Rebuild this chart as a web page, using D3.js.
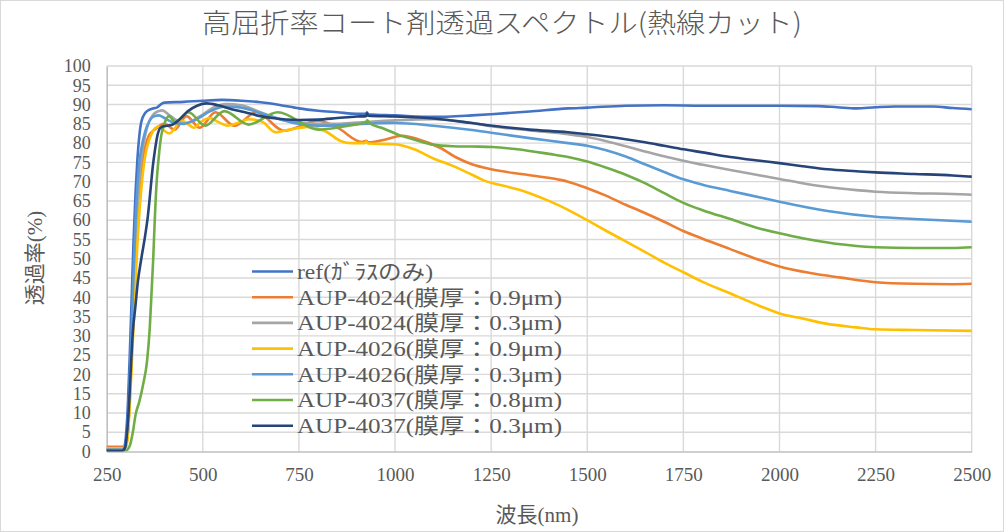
<!DOCTYPE html>
<html><head><meta charset="utf-8">
<script src="https://cdn.jsdelivr.net/npm/d3@7"></script>
<style>body{margin:0;background:#fff;}svg{display:block;}</style>
</head><body>
<svg id="c" width="1006" height="532"></svg>
<script>
const title = "高屈折率コート剤透過スペクトル(熱線カット)";
const xTitle = "波長(nm)";
const yTitle = "透過率(%)";
const xTicks = [250,500,750,1000,1250,1500,1750,2000,2250,2500];
const yTicks = [0,5,10,15,20,25,30,35,40,45,50,55,60,65,70,75,80,85,90,95,100];
const seriesNames = ["ref(ｶﾞﾗｽのみ)","AUP-4024(膜厚：0.9μm)","AUP-4024(膜厚：0.3μm)","AUP-4026(膜厚：0.9μm)","AUP-4026(膜厚：0.3μm)","AUP-4037(膜厚：0.8μm)","AUP-4037(膜厚：0.3μm)"];
const seriesColors = ["#4472C4","#ED7D31","#A5A5A5","#FFC000","#5B9BD5","#70AD47","#264478"];

// [wavelength nm, transmittance %]
const refGlass = [[250,0.6],[290,0.6],[295,1],[300,4],[305,12],[310,25],[315,40],[320,55],[325,67],[330,76],[335,82],[340,85.5],[350,87.8],[360,88.6],[370,89],[380,89.2],[390,90],[400,90.5],[450,90.7],[500,91],[550,91.2],[600,91],[650,90.6],[700,89.9],[750,89.0],[800,88.4],[850,88],[900,87.6],[925,87.6],[927,88.0],[930,87.5],[1000,87.2],[1100,86.8],[1200,87.2],[1250,87.5],[1350,88.2],[1450,89],[1500,89.2],[1600,89.7],[1700,89.8],[1800,89.7],[1900,89.7],[2000,89.7],[2100,89.6],[2150,89.3],[2200,89.0],[2250,89.3],[2300,89.5],[2400,89.5],[2450,89.1],[2500,88.8]];
const aup4024t09 = [[250,1.2],[290,1.2],[300,1.5],[305,5],[310,14],[315,25],[320,37],[325,48],[330,58],[335,66],[340,72],[345,76.5],[350,79],[360,82],[375,83.5],[400,85],[427,83.5],[457,87],[492,84],[533,88],[582,84.5],[640,88],[711,83.2],[800,85.8],[850,84],[914,80.3],[925,80.6],[930,80.2],[970,80.8],[1020,81.9],[1060,81],[1117,78.8],[1161,76.2],[1200,74.5],[1250,73.2],[1333,71.9],[1422,70.6],[1450,70],[1500,68.3],[1550,66.3],[1600,64],[1638,62.4],[1700,59.6],[1750,57.2],[1800,55.2],[1872,52.5],[1950,49.6],[2000,48],[2080,46.3],[2160,45.1],[2250,43.9],[2350,43.5],[2450,43.4],[2500,43.5]];
const aup4024t03 = [[250,0.5],[290,0.5],[300,1.5],[307,8],[312,18],[317,32],[322,45],[327,57],[332,66],[337,73],[342,77.5],[350,82],[360,85.5],[370,87.3],[385,88.3],[395,88.5],[410,87.5],[430,86],[455,85.2],[490,86.8],[530,89.3],[560,90.1],[600,89.8],[650,88],[700,86.2],[750,85.3],[800,85],[850,85],[900,85.3],[1000,85.9],[1100,86.2],[1200,85.2],[1250,84.4],[1350,83.3],[1450,82.3],[1500,81.6],[1550,80.5],[1600,79.2],[1650,77.8],[1700,76.6],[1750,75.4],[1800,74.4],[1872,73],[1950,71.6],[2000,70.7],[2060,69.6],[2125,68.6],[2200,67.8],[2250,67.4],[2350,67],[2450,66.8],[2500,66.6]];
const aup4026t09 = [[250,0.8],[290,0.8],[300,1.2],[305,4],[310,12],[315,22],[320,33],[325,44],[330,54],[335,62],[340,68],[345,73],[350,76.5],[355,79],[365,82],[375,83.8],[387,84.3],[400,83.2],[413,82.5],[425,83.5],[443,86],[460,85],[477,84],[495,85.5],[517,86.5],[540,85.5],[564,84.5],[590,85.2],[620,86.2],[655,85.5],[689,82.8],[730,83.6],[775,84.2],[820,83],[860,80.5],[886,80],[920,80],[925,80.4],[930,79.9],[1000,79.7],[1050,78.4],[1100,76],[1150,74.1],[1200,71.8],[1229,70.4],[1300,68.5],[1350,67],[1400,65],[1450,62.7],[1500,60],[1550,57.2],[1600,54.5],[1650,51.8],[1700,49],[1750,46.5],[1800,44],[1865,41.3],[1950,37.7],[2000,35.8],[2060,34.5],[2125,33.1],[2200,32.2],[2250,31.7],[2350,31.5],[2500,31.3]];
const aup4026t03 = [[250,0.5],[290,0.5],[298,1.5],[305,8],[310,18],[315,32],[320,47],[325,60],[330,69],[335,75],[340,78.5],[350,83],[360,85.5],[370,86.8],[385,87.2],[400,86.5],[420,85.5],[450,85],[480,86],[520,88.3],[560,89.5],[600,89.2],[650,87.8],[700,86.2],[750,85],[800,84.5],[850,84.6],[900,84.9],[1000,85.2],[1100,84.5],[1200,83.4],[1250,82.7],[1350,81.3],[1450,80],[1500,79.3],[1600,76.5],[1650,74.5],[1700,72.5],[1750,70.6],[1800,69.2],[1872,67.6],[1950,65.9],[2000,64.8],[2125,62.4],[2250,60.9],[2350,60.3],[2500,59.6]];
const aup4037t08 = [[250,0.3],[300,0.3],[310,1.5],[318,5],[325,9.5],[335,13],[345,17.5],[355,23.5],[362,32],[367,42],[371,50],[375,60],[380,70],[385,76],[392,82],[400,85],[412,87],[428,85.5],[463,88],[506,84.5],[556,88.3],[619,84.8],[695,88],[800,83.5],[860,84.2],[925,85.5],[928,85.9],[932,85.3],[970,83.8],[1013,82],[1060,80.6],[1099,79.6],[1150,79.2],[1200,79.1],[1253,79],[1318,78.4],[1400,77.2],[1450,76.4],[1500,75.2],[1550,73.6],[1600,71.8],[1650,69.6],[1700,67],[1750,64.5],[1800,62.6],[1872,60.3],[1950,57.8],[2000,56.6],[2060,55.3],[2125,54.2],[2200,53.3],[2250,53],[2350,52.8],[2450,52.8],[2500,53]];
const aup4037t03 = [[250,0.2],[290,0.2],[298,1],[303,5],[308,12],[313,22],[318,31],[325,38],[331,44],[340,50],[350,56],[357,61],[365,69],[370,74],[376,78.5],[382,82],[390,84],[400,84.4],[415,84.6],[425,85],[440,86.2],[460,88.2],[485,89.7],[510,90.3],[540,89.8],[575,88.8],[610,88],[650,87],[680,86.5],[750,86],[800,86.1],[850,86.5],[900,86.9],[925,87],[927,87.7],[930,87.1],[1000,86.9],[1100,86.4],[1200,85.2],[1253,84.5],[1350,83.5],[1450,82.8],[1500,82.3],[1550,81.7],[1600,81],[1650,80.2],[1700,79.3],[1750,78.4],[1800,77.6],[1872,76.4],[1950,75.4],[2000,74.8],[2060,74],[2125,73.2],[2200,72.7],[2250,72.4],[2350,72],[2450,71.6],[2500,71.3]];

const seriesData = [refGlass,aup4024t09,aup4024t03,aup4026t09,aup4026t03,aup4037t08,aup4037t03];

const svg = d3.select("#c");
const L = 106.7, R = 971.7, T = 66, B = 451.5;
const x = d3.scaleLinear().domain([250,2500]).range([L,R]);
const y = d3.scaleLinear().domain([0,100]).range([B,T]);
const txt = "#595959";
const serif = "'Liberation Serif','Noto Sans CJK JP',serif";

svg.append("rect").attr("x",0.5).attr("y",0.5).attr("width",1003).attr("height",531)
  .attr("fill","#fff").attr("stroke","#d9d9d9").attr("stroke-width",1);

// grid
const grid = svg.append("g");
grid.selectAll("line.h").data(yTicks.filter(d=>d>0)).join("line")
  .attr("x1",L).attr("x2",R).attr("y1",d=>y(d)).attr("y2",d=>y(d))
  .attr("stroke","#d9d9d9").attr("stroke-width",1.4);
grid.selectAll("line.v").data(xTicks.filter(d=>d>250)).join("line")
  .attr("x1",d=>x(d)).attr("x2",d=>x(d)).attr("y1",T).attr("y2",B)
  .attr("stroke","#d9d9d9").attr("stroke-width",1.4);

// axes
const xAxis = d3.axisBottom(x).tickValues(xTicks).tickFormat(d3.format("d")).tickSize(0).tickPadding(16);
const gx = svg.append("g").attr("transform",`translate(0,${B})`).call(xAxis);
gx.select(".domain").attr("stroke","#bfbfbf").attr("stroke-width",1.6);
gx.selectAll("text").attr("fill",txt).style("font-family",serif).style("font-size","19px");
const yAxis = d3.axisLeft(y).tickValues(yTicks).tickFormat(d3.format("d")).tickSize(0).tickPadding(16);
const gy = svg.append("g").attr("transform",`translate(${L},0)`).call(yAxis);
gy.select(".domain").attr("stroke","#bfbfbf").attr("stroke-width",1.6);
gy.selectAll("text").attr("fill",txt).style("font-family",serif).style("font-size","18px");

// lines
svg.append("clipPath").attr("id","pc").append("rect")
  .attr("x",L).attr("y",T-5).attr("width",R-L).attr("height",B-T+5);
const line = d3.line().x(d=>x(d[0])).y(d=>y(d[1])).curve(d3.curveMonotoneX);
svg.append("g").attr("clip-path","url(#pc)").selectAll("path").data(seriesData).join("path")
  .attr("d",line).attr("fill","none").attr("stroke",(d,i)=>seriesColors[i])
  .attr("stroke-width",2.6).attr("stroke-linejoin","round").attr("stroke-linecap","round");

// legend
const lg = svg.append("g");
const lx0 = 252, lx1 = 293, ly0 = 271.5, ldy = 25.7;
seriesNames.forEach((n,i)=>{
  const yy = ly0 + i*ldy;
  lg.append("line").attr("x1",lx0).attr("x2",lx1).attr("y1",yy).attr("y2",yy)
    .attr("stroke",seriesColors[i]).attr("stroke-width",2.6);
  lg.append("text").attr("x",297).attr("y",yy).attr("dy","0.35em")
    .attr("fill",txt).style("font-family",serif).style("font-size","21px")
    .attr("textLength", i===0?136:265).attr("lengthAdjust","spacingAndGlyphs")
    .text(n);
});

// titles
svg.append("text").attr("x",502).attr("y",33).attr("text-anchor","middle")
  .attr("fill",txt).style("font-family","'Noto Sans CJK JP',sans-serif").style("font-size","27px")
  .style("font-weight","300").attr("textLength",600).attr("lengthAdjust","spacingAndGlyphs").text(title);
svg.append("text").attr("x",537).attr("y",515).attr("dy","0.35em").attr("text-anchor","middle")
  .attr("fill",txt).style("font-family",serif).style("font-size","21px").text(xTitle);
svg.append("text").attr("transform","translate(35,258) rotate(-90)").attr("dy","0.35em").attr("text-anchor","middle")
  .attr("fill",txt).style("font-family",serif).style("font-size","21px").text(yTitle);
</script>
</body></html>
